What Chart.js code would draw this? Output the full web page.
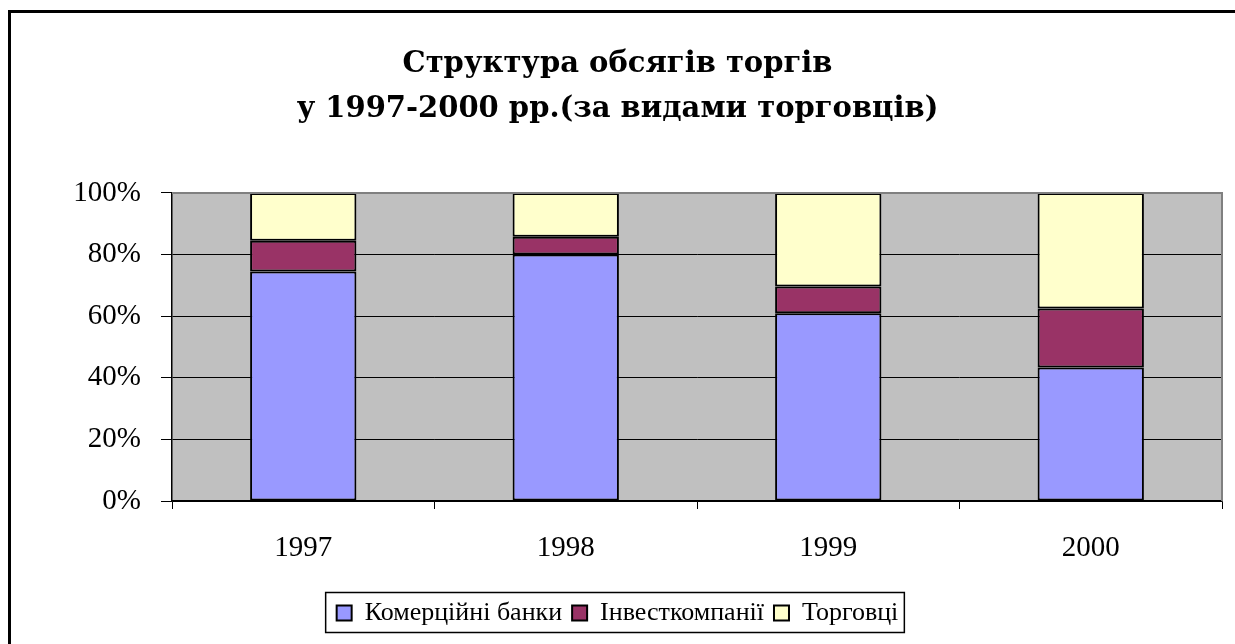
<!DOCTYPE html>
<html>
<head>
<meta charset="utf-8">
<script src="https://cdn.jsdelivr.net/npm/chart.js@4/dist/chart.umd.min.js"></script>
<style>
  html, body { margin: 0; padding: 0; background: #fff; }
  #wrap { width: 1235px; height: 644px; position: relative; }
</style>
</head>
<body>
<div id="wrap"><canvas id="c" width="1235" height="644"></canvas></div>
<script>
  const years = ["1997", "1998", "1999", "2000"];
  const seriesNames = ["Комерційні банки", "Інвесткомпанії", "Торговці"];
  const banks = [74.5, 80.0, 60.9, 43.3];
  const investCos = [10.0, 5.8, 8.7, 19.2];
  const traders = [15.5, 14.2, 30.4, 37.5];
  const yTicks = [0, 20, 40, 60, 80, 100];
  const titleLines = ["Структура обсягів торгів", "у 1997-2000 рр.(за видами торговців)"];

  const colors = ["#9999FF", "#993366", "#FFFFCC"];
  const serif = "'Liberation Serif', 'Times New Roman', serif";

  // grey plot background, grey top/right edges, outer frame, legend frame
  const decor = {
    id: "decor",
    beforeDraw(chart) {
      const { ctx, chartArea: a } = chart;
      ctx.save();
      ctx.fillStyle = "#C0C0C0";
      ctx.fillRect(a.left, a.top, a.right - a.left, a.bottom - a.top);
      ctx.restore();
    },
    afterDraw(chart) {
      const { ctx, chartArea: a } = chart;
      ctx.save();
      ctx.strokeStyle = "#808080";
      ctx.lineWidth = 2;
      ctx.beginPath();
      ctx.moveTo(a.left, a.top);
      ctx.lineTo(a.right, a.top);
      ctx.lineTo(a.right, a.bottom);
      ctx.stroke();

      ctx.strokeStyle = "#000";
      ctx.lineWidth = 3;
      ctx.strokeRect(9.5, 11.5, 1240, 660);

      const boxes = chart.legend.legendHitBoxes;
      if (boxes && boxes.length) {
        const l = Math.min(...boxes.map(b => b.left)) - 11;
        const r = Math.max(...boxes.map(b => b.left + b.width)) + 6;
        ctx.lineWidth = 1.5;
        ctx.strokeRect(l, 592.5, r - l, 40);
      }
      ctx.restore();
    }
  };

  new Chart(document.getElementById("c"), {
    type: "bar",
    data: {
      labels: years,
      datasets: [banks, investCos, traders].map((vals, i) => ({
        label: seriesNames[i],
        data: vals,
        backgroundColor: colors[i],
        borderColor: "#000",
        borderWidth: 2,
        borderSkipped: false,
        categoryPercentage: 1,
        barPercentage: 0.405
      }))
    },
    options: {
      responsive: false,
      animation: false,
      events: [],
      layout: { padding: { left: 13, right: 13, top: 0, bottom: 8 } },
      plugins: {
        title: {
          display: true,
          text: titleLines,
          color: "#000",
          font: { family: "'DejaVu Serif', serif", size: 29, weight: "bold", lineHeight: 1.55 },
          padding: { top: 42, bottom: 61 }
        },
        legend: {
          position: "bottom",
          labels: {
            color: "#000",
            font: { family: serif, size: 26 },
            boxWidth: 15,
            boxHeight: 15,
            padding: 10
          }
        },
        tooltip: { enabled: false }
      },
      scales: {
        x: {
          stacked: true,
          offset: true,
          grid: { offset: true, drawOnChartArea: false, color: "#000", tickLength: 8, tickWidth: 1 },
          border: { color: "#000", width: 1.5 },
          ticks: { color: "#000", font: { family: serif, size: 29 }, padding: 22 },
          afterFit: s => { s.height = 89; }
        },
        y: {
          stacked: true,
          min: 0,
          max: 100,
          afterBuildTicks: s => { s.ticks = yTicks.map(v => ({ value: v })); },
          grid: { color: "#000", lineWidth: 1, tickLength: 11 },
          border: { color: "#000", width: 1.5 },
          ticks: {
            color: "#000",
            font: { family: serif, size: 29 },
            padding: 20,
            callback: v => v + "%"
          },
          afterFit: s => { s.width = 159; }
        }
      }
    },
    plugins: [decor]
  });
</script>
</body>
</html>
